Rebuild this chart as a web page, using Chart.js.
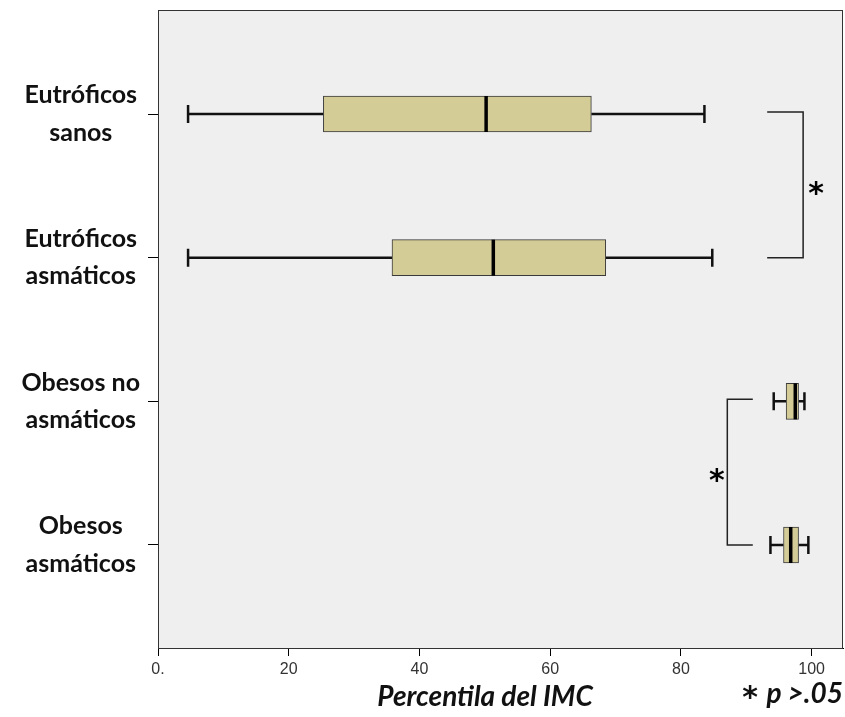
<!DOCTYPE html>
<html>
<head>
<meta charset="utf-8">
<script src="https://cdn.jsdelivr.net/npm/chart.js@4/dist/chart.umd.min.js"></script>
<style>
  html, body { margin: 0; padding: 0; background: #ffffff; }
  #wrap { width: 845px; height: 717px; }
</style>
</head>
<body>
<div id="wrap"><canvas id="c" width="845" height="717"></canvas></div>
<script>
// Groups (top to bottom) and their box-plot summaries of BMI percentile
const categories = [
  ['Eutróficos', 'sanos'],
  ['Eutróficos', 'asmáticos'],
  ['Obesos no', 'asmáticos'],
  ['Obesos', 'asmáticos']
];
const whiskerLow  = [4.6, 4.6, 94.2, 93.7];
const q1          = [25.3, 35.8, 96.1, 95.7];
const median      = [50.2, 51.3, 97.5, 96.8];
const q3          = [66.3, 68.5, 98.0, 98.0];
const whiskerHigh = [83.6, 84.8, 98.9, 99.5];
const xTicks = [0, 20, 40, 60, 80, 100];

// Significance brackets between pairs of groups
const comparisons = [
  { pair: [0, 1], spine: 98.7, arm: 93.2, star: 100.7 },
  { pair: [2, 3], spine: 87.1, arm: 91.0, star: 85.5 }
];

const plotBg = '#efefef';
const boxFill = '#d4cc97';

const boxPlotPlugin = {
  id: 'boxPlotExtras',
  beforeDraw(chart) {
    const { ctx, chartArea: a } = chart;
    ctx.save();
    ctx.fillStyle = plotBg;
    ctx.fillRect(a.left, a.top, a.right - a.left, a.bottom - a.top);
    ctx.restore();
  },
  beforeDatasetsDraw(chart) {
    const { ctx, scales: { x, y } } = chart;
    ctx.save();
    ctx.strokeStyle = '#111';
    ctx.lineWidth = 2.5;
    categories.forEach((_, i) => {
      const py = y.getPixelForValue(i);
      const lo = x.getPixelForValue(whiskerLow[i]);
      const hi = x.getPixelForValue(whiskerHigh[i]);
      ctx.beginPath();
      ctx.moveTo(lo, py); ctx.lineTo(x.getPixelForValue(q1[i]), py);
      ctx.moveTo(x.getPixelForValue(q3[i]), py); ctx.lineTo(hi, py);
      ctx.moveTo(lo, py - 9); ctx.lineTo(lo, py + 9);
      ctx.moveTo(hi, py - 9); ctx.lineTo(hi, py + 9);
      ctx.stroke();
    });
    ctx.restore();
  },
  afterDatasetsDraw(chart) {
    const { ctx, chartArea: a, scales: { x, y } } = chart;
    ctx.save();
    // medians
    ctx.strokeStyle = '#000';
    ctx.lineWidth = 3.5;
    categories.forEach((_, i) => {
      const py = y.getPixelForValue(i);
      const px = x.getPixelForValue(median[i]);
      ctx.beginPath();
      ctx.moveTo(px, py - 18); ctx.lineTo(px, py + 18);
      ctx.stroke();
    });
    // brackets and asterisks
    ctx.strokeStyle = '#222';
    ctx.lineWidth = 1.5;
    ctx.fillStyle = '#000';
    ctx.font = 'bold 30px "DejaVu Sans", sans-serif';
    ctx.textAlign = 'center';
    ctx.textBaseline = 'middle';
    comparisons.forEach(c => {
      const y0 = y.getPixelForValue(c.pair[0]) - 2;
      const y1 = y.getPixelForValue(c.pair[1]);
      const sx = x.getPixelForValue(c.spine);
      const ax = x.getPixelForValue(c.arm);
      ctx.beginPath();
      ctx.moveTo(ax, y0); ctx.lineTo(sx, y0); ctx.lineTo(sx, y1); ctx.lineTo(ax, y1);
      ctx.stroke();
      ctx.fillText('*', x.getPixelForValue(c.star), (y0 + y1) / 2 + 10);
    });
    // frame
    ctx.strokeStyle = '#333';
    ctx.lineWidth = 1;
    ctx.strokeRect(a.left + 0.5, a.top + 0.5, a.right - a.left - 1, a.bottom - a.top);
    // axis title and footnote
    ctx.fillStyle = '#111';
    ctx.font = 'italic bold 28px Lato, "DejaVu Sans", sans-serif';
    ctx.textAlign = 'center';
    ctx.fillText('Percentila del IMC', 485, 697);
    ctx.textAlign = 'right';
    ctx.fillText('p >.05', 843, 694);
    ctx.font = 'bold 30px "DejaVu Sans", sans-serif';
    ctx.textAlign = 'center';
    ctx.fillText('*', 750, 699);
    ctx.restore();
  }
};

new Chart(document.getElementById('c'), {
  type: 'bar',
  data: {
    datasets: [{
      data: categories.map((_, i) => ({ x: [q1[i], q3[i]], y: i })),
      backgroundColor: boxFill,
      borderColor: '#3a3a3a',
      borderWidth: 1,
      borderSkipped: false,
      barThickness: 36
    }]
  },
  options: {
    indexAxis: 'y',
    responsive: false,
    animation: false,
    layout: { padding: { top: 10, right: 2, left: 0, bottom: 0 } },
    plugins: { legend: { display: false }, tooltip: { enabled: false } },
    scales: {
      x: {
        type: 'linear',
        min: 0,
        max: 104.8,
        afterBuildTicks(scale) { scale.ticks = xTicks.map(v => ({ value: v })); },
        afterFit(scale) { scale.height = 69; scale.paddingLeft = 0; scale.paddingRight = 0; },
        grid: { drawOnChartArea: false, drawTicks: true, tickLength: 8, color: '#000' },
        border: { display: true, color: '#000' },
        ticks: {
          color: '#333',
          padding: 4,
          font: { family: '"Liberation Sans Narrow", "Liberation Sans", Arial, sans-serif', size: 16 },
          callback: v => (v === 0 ? '0.' : String(v))
        }
      },
      y: {
        type: 'linear',
        reverse: true,
        offset: false,
        min: -0.724,
        max: 3.717,
        afterBuildTicks(scale) { scale.ticks = categories.map((_, i) => ({ value: i })); },
        afterFit(scale) { scale.width = 158; scale.paddingTop = 0; scale.paddingBottom = 0; },
        grid: { offset: false, drawOnChartArea: false, drawTicks: true, tickLength: 10, color: '#000' },
        border: { display: true, color: '#000' },
        ticks: {
          color: '#111',
          padding: 8,
          crossAlign: 'center',
          font: { family: 'Lato, "DejaVu Sans", sans-serif', size: 25, weight: 'bold', lineHeight: 1.5 },
          callback: v => categories[v]
        }
      }
    }
  },
  plugins: [boxPlotPlugin]
});
</script>
</body>
</html>
